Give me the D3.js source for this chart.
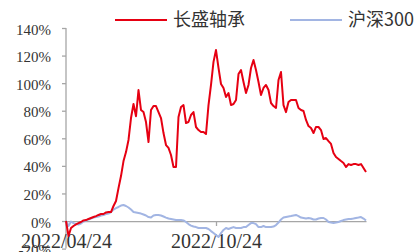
<!DOCTYPE html>
<html>
<head>
<meta charset="utf-8">
<script src="https://cdn.jsdelivr.net/npm/d3@7"></script>
<style>
  body { margin: 0; background: #fff; }
  svg { display: block; }
</style>
</head>
<body>
<svg width="414" height="252"></svg>
<script>
// series names
const names = ['长盛轴承', '沪深300'];

// cumulative return (%), one point every ~2 trading days from 2022/04/24
const stock = [0, -10.9, -5.1, -3.6, -2.5, -1.5, -0.7, 0.4, 0.7, 1.5,
  2.2, 2.9, 3.6, 4.4, 5.1, 5.1, 6.2, 6.5, 6.5, 10.9,
  14.5, 23.9, 32.6, 43.5, 50, 58.8, 74.7, 84.9, 76, 95,
  80.5, 79, 71.8, 57.3, 80.5, 83.4, 83.4, 79, 74.7, 63.8,
  55.1, 53, 47.9, 39.2, 39.2, 75.4, 82.7, 84.1, 71.1, 71.8,
  76.9, 79, 68.2, 66, 64.6, 64.6, 63.1, 84.1, 98.7, 115.4,
  124, 111, 99.4, 96.5, 89.9, 92.8, 84.1, 84.9, 87.8, 106.6,
  109.5, 100.8, 92.8, 98.7, 111, 116.8, 109.5, 100.8, 91.4, 96.5,
  98.7, 95, 85.6, 83.4, 82, 102.3, 108.1, 84.1, 79, 86.3,
  87.8, 87.8, 87.8, 82, 80.5, 79.8, 73.3, 68.9, 67.5, 63.8,
  68.2, 68.2, 66, 59.5, 60.2, 58, 55.9, 49.3, 46.4, 45,
  43.5, 42.1, 39.2, 41.3, 40.6, 41.3, 41.3, 40.6, 41.3, 38.4, 35.5];

const index300 = [0, -3.6, -0.4, -1.5, -2.2, -2.5, -1.8, -0.4, 0.4, 1.1,
  1.8, 2.5, 2.9, 3.3, 4, 4.4, 5.1, 5.4, 6.5, 8.3,
  9.4, 10.2, 11.2, 11.6, 10.9, 9.8, 8.3, 6.5, 6.2, 5.8,
  5.4, 4.7, 4, 2.9, 2.5, 4, 4.4, 4.4, 4, 3.3,
  2.5, 1.8, 1.5, 1.1, 0.7, 0.7, 0.7, 0.4, -0.7, -2.2,
  -3.3, -4, -4.4, -5.1, -5.1, -5.1, -5.1, -5.8, -7.3, -8.7,
  -10.2, -11.6, -8.7, -6.5, -5.1, -5.8, -5.1, -4.4, -5.1, -5.1,
  -5.1, -4.4, -4.4, -2.9, -1.5, -1.5, -2.2, -4.4, -4.4, -3.6,
  -4.4, -4.4, -4.4, -4, -2.9, -1.1, 1.1, 2.5, 2.9, 3.3,
  3.6, 4, 4.4, 3.6, 2.5, 2.2, 1.8, 2.2, 1.8, 1.1,
  1.1, 1.8, 2.2, 2.2, 1.1, -0.7, -1.1, -1.5, -1.1, -0.7,
  0, 0.7, 1.1, 1.5, 1.5, 1.8, 2.2, 2.5, 2.9, 1.8, 0.4];

// x tick positions (point index) and labels
const xTickIdx = [0, 60];
const xTickLabels = ['2022/04/24', '2022/10/24'];
const yTicks = [-20, 0, 20, 40, 60, 80, 100, 120, 140];

const colors = ['#e60012', '#a2b5e3'];

const svg = d3.select('svg');
const margin = { left: 66, top: 28 };

// x: index of point, y: percent
const x = d3.scaleLinear().domain([0, stock.length - 1]).range([margin.left, 366]);
const y = d3.scaleLinear().domain([-20, 140]).range([248.6, margin.top]);

//y axis
const yAxis = svg.append('g')
  .attr('transform', 'translate(' + margin.left + ',0)')
  .call(d3.axisLeft(y).tickValues(yTicks).tickSize(4).tickPadding(11)
    .tickFormat(d => d + '%'));
yAxis.selectAll('line, path').attr('stroke', '#a6a6a6').attr('stroke-width', 1.3);
yAxis.select('.domain').attr('d', 'M0,' + y(140) + 'V' + y(-20));
yAxis.selectAll('text')
  .attr('dy', '0.4em')
  .style('font-family', '"Liberation Serif", serif')
  .style('font-size', '15px')
  .attr('fill', '#333');

//x axis sits on 0%
const xAxis = svg.append('g')
  .attr('transform', 'translate(0,' + y(0) + ')')
  .call(d3.axisBottom(x).tickValues(xTickIdx).tickSize(5).tickSizeOuter(0)
    .tickPadding(8).tickFormat((d, i) => xTickLabels[i]));
xAxis.selectAll('line, path').attr('stroke', '#a6a6a6').attr('stroke-width', 1.3);
xAxis.selectAll('text')
  .style('font-family', '"Liberation Serif", serif')
  .style('font-size', '20px')
  .attr('fill', '#333');

// lines
const line = d3.line().x((d, i) => x(i)).y(d => y(d));
[index300, stock].forEach((s, k) => {
  svg.append('path')
    .datum(s)
    .attr('fill', 'none')
    .attr('stroke', k === 0 ? colors[1] : colors[0])
    .attr('stroke-width', 2)
    .attr('stroke-linejoin', 'round')
    .attr('d', line);
});

// legend
const legend = [
  { name: names[0], color: colors[0], x0: 115 },
  { name: names[1], color: colors[1], x0: 290 }
];
const lg = svg.append('g').selectAll('g').data(legend).enter().append('g')
  .attr('transform', d => 'translate(' + d.x0 + ',20)');
lg.append('line')
  .attr('x1', 0).attr('x2', 52)
  .attr('stroke', d => d.color)
  .attr('stroke-width', 2);
lg.append('text')
  .attr('x', 58)
  .attr('dy', '0.35em')
  .style('font-family', '"Noto Sans CJK SC", "Liberation Serif", serif')
  .style('font-size', '18px')
  .attr('fill', '#333')
  .text(d => d.name);
</script>
</body>
</html>
